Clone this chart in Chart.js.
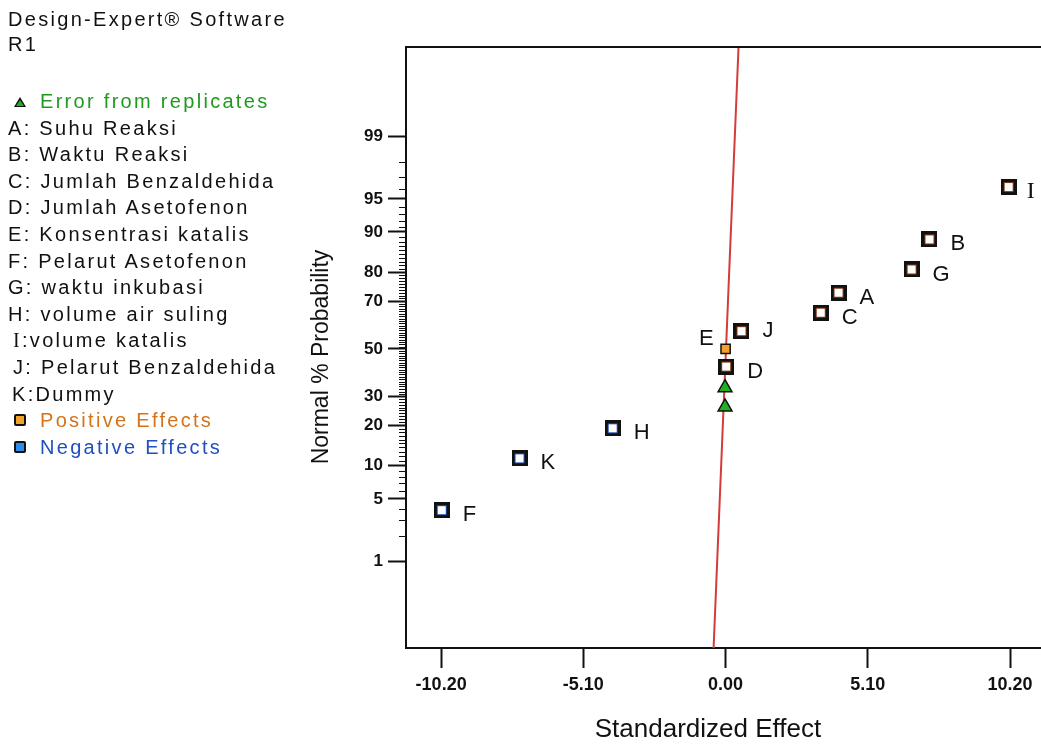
<!DOCTYPE html>
<html>
<head>
<meta charset="utf-8">
<title>Normal Plot - R1</title>
<script src="https://cdn.jsdelivr.net/npm/chart.js@4.4.1/dist/chart.umd.min.js"></script>
<style>
  body { margin: 0; background: #fff; }
  #wrap { position: relative; width: 1041px; height: 745px; overflow: hidden; }
  #chart { position: absolute; left: 0; top: 0; }
  .side { position: absolute; left: 8px; font-family: "Liberation Sans", Arial, sans-serif; font-size: 20px; letter-spacing: 2.3px; color: #111; white-space: nowrap; }
  .head { top: 7px; line-height: 25px; letter-spacing: 2.3px; }
  .legend { top: 88px; line-height: 26.6px; }
  .legend div { position: relative; }
  .sym { position: absolute; left: 6px; top: 9px; }
  .tri { width: 0; height: 0; border-left: 6px solid transparent; border-right: 6px solid transparent; border-bottom: 10px solid #111; }
  .tri::after { content: ""; position: absolute; left: -4px; top: 3px; border-left: 4px solid transparent; border-right: 4px solid transparent; border-bottom: 6px solid #22b022; }
  .sq { width: 8px; height: 8px; border: 2px solid #111; border-radius: 2px; top: 7px; }
  .ind { padding-left: 32px; }
</style>
</head>
<body>
<div id="wrap">
  <canvas id="chart" width="1041" height="745"></canvas>
  <div class="side head">Design-Expert® Software<br>R1</div>
  <div class="side legend">
    <div class="ind" style="color:#1f9a1f"><span class="sym tri"></span>Error from replicates</div>
    <div>A: Suhu Reaksi</div>
    <div>B: Waktu Reaksi</div>
    <div>C: Jumlah Benzaldehida</div>
    <div>D: Jumlah Asetofenon</div>
    <div>E: Konsentrasi katalis</div>
    <div>F: Pelarut Asetofenon</div>
    <div>G: waktu inkubasi</div>
    <div>H: volume air suling</div>
    <div style="padding-left:5px"><span style="font-family:'Liberation Serif',serif">I</span>:volume katalis</div>
    <div style="padding-left:5px">J: Pelarut Benzaldehida</div>
    <div style="padding-left:4px">K:Dummy</div>
    <div class="ind" style="color:#d4731a"><span class="sym sq" style="background:#f2a22a"></span>Positive Effects</div>
    <div class="ind" style="color:#1f4fc0"><span class="sym sq" style="background:#2f8ae8"></span>Negative Effects</div>
  </div>
</div>
<script>
// Normal probability plot of standardized effects, y axis is normal % probability

// effects above zero
const positiveTerms = ['D', 'J', 'C', 'A', 'G', 'B', 'I'];
const positiveEffects = [0.02, 0.57, 3.41, 4.05, 6.67, 7.31, 10.15];
const positiveProbs = [42.3, 57.7, 65.4, 73.1, 80.8, 88.5, 96.2];

// effects below zero
const negativeTerms = ['F', 'K', 'H'];
const negativeEffects = [-10.18, -7.39, -4.05];
const negativeProbs = [3.85, 11.5, 19.2];

// E sits on the line
const smallTerms = ['E'];
const smallEffects = [0.0];
const smallProbs = [50.0];

// error from replicates
const errorEffects = [-0.02, -0.02];
const errorProbs = [26.2, 33.5];

// fitted red line (two ends)
const lineEffects = [-0.44, 0.47];
const lineProbs = [0.04, 99.96];

const probTicks = [1, 5, 10, 20, 30, 50, 70, 80, 90, 95, 99];
const effectTicks = [-10.2, -5.1, 0, 5.1, 10.2];

// inverse normal cdf (Acklam), p in percent
function probToZ(p) {
  const q = p / 100;
  const a = [-3.969683028665376e+01, 2.209460984245205e+02, -2.759285104469687e+02, 1.383577518672690e+02, -3.066479806614716e+01, 2.506628277459239e+00];
  const b = [-5.447609879822406e+01, 1.615858368580409e+02, -1.556989798598866e+02, 6.680131188771972e+01, -1.328068155288572e+01];
  const c = [-7.784894002430293e-03, -3.223964580411365e-01, -2.400758277161838e+00, -2.549732539343734e+00, 4.374664141464968e+00, 2.938163982698783e+00];
  const d = [7.784695709041462e-03, 3.224671290700398e-01, 2.445134137142996e+00, 3.754408661907416e+00];
  const lo = 0.02425;
  if (q < lo) {
    const r = Math.sqrt(-2 * Math.log(q));
    return (((((c[0] * r + c[1]) * r + c[2]) * r + c[3]) * r + c[4]) * r + c[5]) / ((((d[0] * r + d[1]) * r + d[2]) * r + d[3]) * r + 1);
  }
  if (q > 1 - lo) {
    const r = Math.sqrt(-2 * Math.log(1 - q));
    return -(((((c[0] * r + c[1]) * r + c[2]) * r + c[3]) * r + c[4]) * r + c[5]) / ((((d[0] * r + d[1]) * r + d[2]) * r + d[3]) * r + 1);
  }
  const r = q - 0.5, s = r * r;
  return (((((a[0] * s + a[1]) * s + a[2]) * s + a[3]) * s + a[4]) * s + a[5]) * r / (((((b[0] * s + b[1]) * s + b[2]) * s + b[3]) * s + b[4]) * s + 1);
}

function toPoints(xs, ps) {
  return xs.map((x, i) => ({ x: x, y: probToZ(ps[i]) }));
}

// square marker: black frame, thin coloured ring, white centre
function makeSquare(inner) {
  const c = document.createElement('canvas');
  c.width = 16; c.height = 16;
  const g = c.getContext('2d');
  g.fillStyle = '#111';
  g.fillRect(0, 0, 16, 16);
  g.fillStyle = inner;
  g.fillRect(3, 3, 10, 10);
  g.fillStyle = '#fff';
  g.fillRect(4, 4, 8, 8);
  return c;
}

const labelOffsets = {
  I: { dx: 18, dy: 5 },
  J: { dx: 21, dy: 0 },
  E: { dx: -12, dy: -10, align: 'right' }
};

const extrasPlugin = {
  id: 'extras',
  afterDatasetsDraw(chart) {
    const ctx = chart.ctx;
    const area = chart.chartArea;
    const xs = chart.scales.x, ys = chart.scales.y;
    ctx.save();
    // top frame line
    ctx.strokeStyle = '#111';
    ctx.lineWidth = 2;
    ctx.beginPath();
    ctx.moveTo(area.left - 1, area.top);
    ctx.lineTo(chart.width, area.top);
    ctx.stroke();
    // minor probability ticks (every percent)
    ctx.lineWidth = 1;
    for (let p = 2; p < 99; p++) {
      if (probTicks.includes(p)) continue;
      const y = Math.round(ys.getPixelForValue(probToZ(p))) + 0.5;
      ctx.beginPath();
      ctx.moveTo(area.left - 7, y);
      ctx.lineTo(area.left, y);
      ctx.stroke();
    }
    // point labels
    const groups = [
      [positiveTerms, positiveEffects, positiveProbs],
      [negativeTerms, negativeEffects, negativeProbs],
      [smallTerms, smallEffects, smallProbs]
    ];
    ctx.fillStyle = '#111';
    ctx.textBaseline = 'middle';
    groups.forEach(([terms, effs, probs]) => {
      terms.forEach((t, i) => {
        const off = labelOffsets[t] || { dx: 21, dy: 5 };
        const px = xs.getPixelForValue(effs[i]);
        const py = ys.getPixelForValue(probToZ(probs[i]));
        ctx.textAlign = off.align || 'left';
        ctx.font = t === 'I' ? '24px "Liberation Serif", serif' : '22px "Liberation Sans", Arial, sans-serif';
        ctx.fillText(t, px + off.dx, py + off.dy);
      });
    });
    // axis titles
    ctx.font = '26px "Liberation Sans", Arial, sans-serif';
    ctx.textAlign = 'center';
    ctx.textBaseline = 'alphabetic';
    ctx.fillText('Standardized Effect', 708, 737);
    ctx.translate(328, 357);
    ctx.rotate(-Math.PI / 2);
    ctx.font = '23px "Liberation Sans", Arial, sans-serif';
    ctx.fillText('Normal % Probability', 0, 0);
    ctx.restore();
  }
};

const ctx = document.getElementById('chart').getContext('2d');
const chart = new Chart(ctx, {
  type: 'scatter',
  data: {
    datasets: [
      {
        label: 'Error from replicates',
        data: toPoints(errorEffects, errorProbs),
        pointStyle: 'triangle',
        pointRadius: 8,
        backgroundColor: '#22b022',
        borderColor: '#111',
        borderWidth: 1.5
      },
      {
        label: 'E',
        data: toPoints(smallEffects, smallProbs),
        pointStyle: 'rect',
        pointRadius: 6.5,
        backgroundColor: '#f2a22a',
        borderColor: '#111',
        borderWidth: 1.5
      },
      {
        label: 'Positive Effects',
        data: toPoints(positiveEffects, positiveProbs),
        pointStyle: makeSquare('#8a3a12')
      },
      {
        label: 'Negative Effects',
        data: toPoints(negativeEffects, negativeProbs),
        pointStyle: makeSquare('#1d4fb0')
      },
      {
        type: 'line',
        label: 'fit',
        data: toPoints(lineEffects, lineProbs),
        borderColor: '#d43c3c',
        borderWidth: 2,
        pointRadius: 0,
        fill: false
      }
    ]
  },
  options: {
    responsive: false,
    devicePixelRatio: 1,
    animation: false,
    layout: { autoPadding: false, padding: { left: 300, top: 47, right: 0, bottom: 0 } },
    plugins: {
      legend: { display: false },
      tooltip: { enabled: false }
    },
    scales: {
      x: {
        type: 'linear',
        min: -11.46,
        max: 11.31,
        afterFit: (scale) => {
          scale.height = 97;
          scale.paddingLeft = 0;
          scale.paddingRight = 0;
        },
        afterBuildTicks: (scale) => { scale.ticks = effectTicks.map(v => ({ value: v })); },
        ticks: {
          callback: (v) => Number(v).toFixed(2),
          color: '#111',
          font: { family: '"Liberation Sans", Arial, sans-serif', size: 18, weight: 'bold' },
          padding: 6,
          maxRotation: 0
        },
        grid: { drawOnChartArea: false, tickLength: 20, tickColor: '#111', tickWidth: 2 },
        border: { color: '#111', width: 2 }
      },
      y: {
        type: 'linear',
        min: -3.28,
        max: 3.31,
        afterFit: (scale) => { scale.width = 106; },
        afterBuildTicks: (scale) => { scale.ticks = probTicks.map(p => ({ value: probToZ(p) })); },
        ticks: {
          callback: (v, i) => String(probTicks[i]),
          color: '#111',
          font: { family: '"Liberation Sans", Arial, sans-serif', size: 17, weight: 'bold' },
          padding: 5
        },
        grid: { drawOnChartArea: false, tickLength: 18, tickColor: '#111', tickWidth: 2 },
        border: { color: '#111', width: 2 }
      }
    }
  },
  plugins: [extrasPlugin]
});
</script>
</body>
</html>
